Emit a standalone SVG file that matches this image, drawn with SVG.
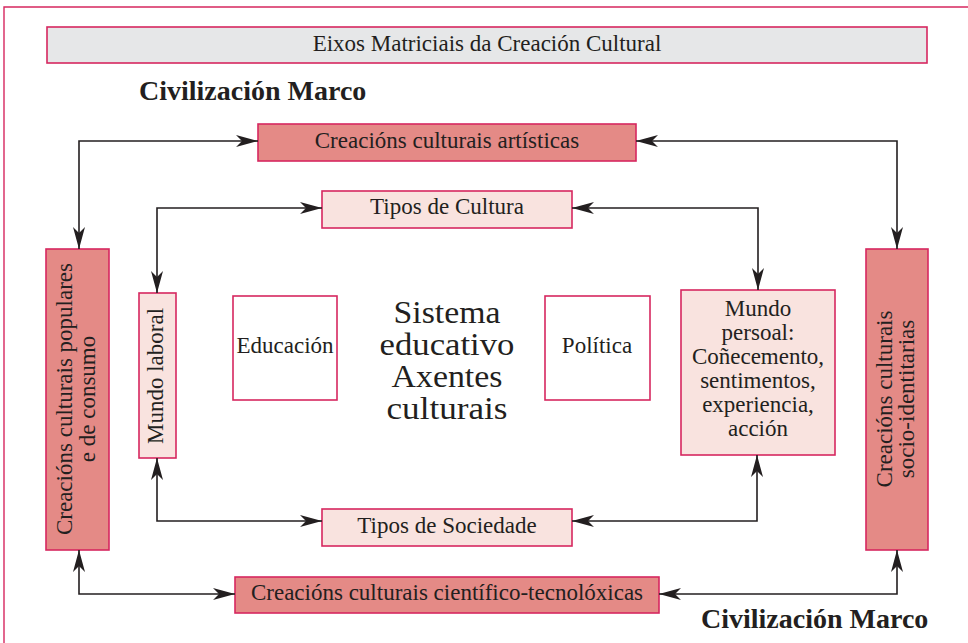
<svg xmlns="http://www.w3.org/2000/svg" width="968" height="643" viewBox="0 0 968 643">
<defs>
<style>
.frame{fill:none;stroke:#d6275f;stroke-width:1.4}
.box{stroke:#d6275f;stroke-width:1.6}
.dark{fill:#e48a86}
.light{fill:#f9e3df}
.white{fill:#ffffff}
.grey{fill:#e6e7e8}
text{font-family:"Liberation Serif","Times New Roman",serif;fill:#231f20;font-size:23px}
.c{text-anchor:middle}
.big{font-size:31px}
.bold{font-weight:bold;font-size:28px}
.conn{fill:none;stroke:#231f20;stroke-width:1.6;marker-start:url(#arr);marker-end:url(#arr)}
</style>
<marker id="arr" viewBox="0 0 22 12" refX="22" refY="6" markerWidth="22" markerHeight="12" markerUnits="userSpaceOnUse" orient="auto-start-reverse">
<path d="M0,0 L22,6 L0,12 L6,6 Z" fill="#231f20"/>
</marker>
</defs>
<rect width="968" height="643" fill="#ffffff"/>
<path class="frame" d="M4,643 V7 H968"/>

<g id="title">
<rect class="box grey" x="47" y="27" width="880" height="36"/>
<text class="c" x="487" y="51">Eixos Matriciais da Creación Cultural</text>
</g>
<g id="civ-top"><text class="bold" x="139" y="100">Civilización Marco</text></g>
<g id="civ-bottom"><text class="bold" x="701" y="628">Civilización Marco</text></g>

<g id="artisticas">
<rect class="box dark" x="258" y="124" width="378" height="37"/>
<text class="c" x="447" y="148">Creacións culturais artísticas</text>
</g>
<g id="tipos-cultura">
<rect class="box light" x="322" y="191" width="250" height="37"/>
<text class="c" x="447" y="214">Tipos de Cultura</text>
</g>
<g id="populares">
<rect class="box dark" x="46" y="249" width="63" height="301"/>
<text class="c" transform="translate(72,399) rotate(-90)"><tspan x="0" y="0">Creacións culturais populares</tspan><tspan x="0" dy="23">e de consumo</tspan></text>
</g>
<g id="mundo-laboral">
<rect class="box light" x="139" y="293" width="37" height="165"/>
<text class="c" transform="translate(163,376) rotate(-90)">Mundo laboral</text>
</g>
<g id="educacion">
<rect class="box white" x="233" y="296" width="104" height="104"/>
<text class="c" x="285" y="353">Educación</text>
</g>
<g id="sistema">
<text class="c big" x="447" y="323" textLength="107" lengthAdjust="spacingAndGlyphs">Sistema</text>
<text class="c big" x="447" y="355" textLength="135" lengthAdjust="spacingAndGlyphs">educativo</text>
<text class="c big" x="447" y="387" textLength="111" lengthAdjust="spacingAndGlyphs">Axentes</text>
<text class="c big" x="447" y="419" textLength="121" lengthAdjust="spacingAndGlyphs">culturais</text>
</g>
<g id="politica">
<rect class="box white" x="545" y="296" width="105" height="104"/>
<text class="c" x="597" y="353">Política</text>
</g>
<g id="mundo-persoal">
<rect class="box light" x="681" y="290" width="154" height="165"/>
<text class="c" x="758" y="316">Mundo</text>
<text class="c" x="758" y="340">persoal:</text>
<text class="c" x="758" y="364">Coñecemento,</text>
<text class="c" x="758" y="388">sentimentos,</text>
<text class="c" x="758" y="412">experiencia,</text>
<text class="c" x="758" y="436">acción</text>
</g>
<g id="socio-identitarias">
<rect class="box dark" x="866" y="249" width="62" height="301"/>
<text class="c" transform="translate(892,399) rotate(-90)"><tspan x="0" y="0">Creacións culturais</tspan><tspan x="0" dy="22">socio-identitarias</tspan></text>
</g>
<g id="tipos-sociedade">
<rect class="box light" x="322" y="509" width="250" height="37"/>
<text class="c" x="447" y="533">Tipos de Sociedade</text>
</g>
<g id="cientifico">
<rect class="box dark" x="235" y="577" width="424" height="36"/>
<text class="c" x="447" y="600">Creacións culturais científico-tecnolóxicas</text>
</g>

<g id="connectors">
<polyline class="conn" points="258,141 79,141 79,249"/>
<polyline class="conn" points="636,141 897,141 897,249"/>
<polyline class="conn" points="322,208 157,208 157,293"/>
<polyline class="conn" points="572,208 758,208 758,290"/>
<polyline class="conn" points="322,521 157,521 157,458"/>
<polyline class="conn" points="572,521 757,521 757,455"/>
<polyline class="conn" points="235,594 79,594 79,550"/>
<polyline class="conn" points="659,594 897,594 897,550"/>
</g>
</svg>
